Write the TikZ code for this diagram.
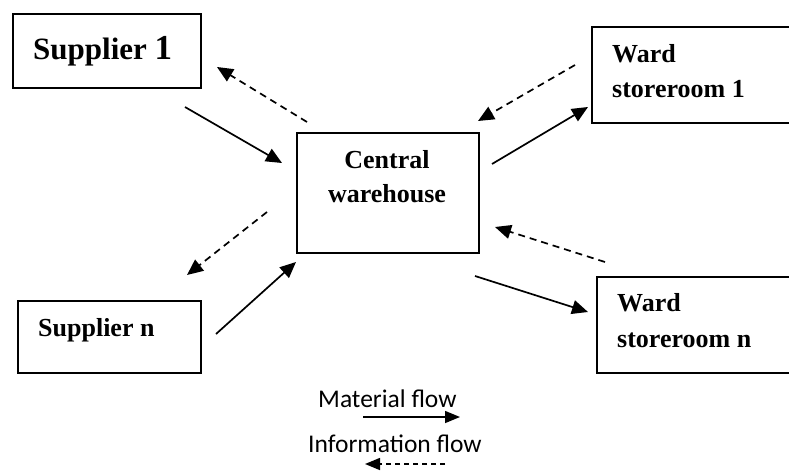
\documentclass[tikz,border=0pt]{standalone}
\usepackage{fontspec}
\setmainfont{Liberation Serif}
\newfontfamily\legendfont{Carlito}
\usetikzlibrary{arrows.meta}

\tikzset{
  box/.style={draw, line width=2pt, inner sep=0pt},
  lbl/.style={font=\bfseries\fontsize{26}{34}\selectfont, anchor=base west, inner sep=0pt},
  matflow/.style={line width=1.7pt, -{Triangle[length=16pt,width=14pt]}},
  infoflow/.style={line width=1.7pt, dash pattern=on 7pt off 5pt, -{Triangle[length=16pt,width=14pt]}},
  legtext/.style={font=\legendfont\fontsize{25.5}{30}\selectfont, anchor=base west, inner sep=0pt},
}

\begin{document}
\begin{tikzpicture}[x=1pt,y=-1pt]
  \clip (0,0) rectangle (789,471);
  \fill[white] (0,0) rectangle (789,471);

  % boxes
  \node[box, minimum width=188pt, minimum height=74pt, anchor=north west] (s1) at (12,13) {};
  \node[box, minimum width=183pt, minimum height=72pt, anchor=north west] (sn) at (17,300) {};
  \node[box, minimum width=182pt, minimum height=120pt, anchor=north west] (cw) at (296,132) {};
  \node[box, minimum width=230pt, minimum height=96pt, anchor=north west] (w1) at (591,26) {};
  \node[box, minimum width=230pt, minimum height=96pt, anchor=north west] (wn) at (596,276) {};

  % box texts
  \node[anchor=base west, inner sep=0pt] (s1t) at (33,59)
    {\bfseries\fontsize{31}{36}\selectfont Supplier {\fontsize{35}{40}\selectfont 1}};
  \node[lbl] (snt) at (38,336) {Supplier n};
  \node[lbl, anchor=base] (cwt1) at (387,168) {Central};
  \node[lbl, anchor=base] (cwt2) at (387,202) {warehouse};
  \node[lbl] (w1t1) at (612,62) {Ward};
  \node[lbl] (w1t2) at (612,97) {storeroom 1};
  \node[lbl] (wnt1) at (617,311) {Ward};
  \node[lbl] (wnt2) at (617,347) {storeroom n};

  % connector end points
  \coordinate (a1s) at (185,107); \coordinate (a1e) at (282,163);
  \coordinate (a2s) at (307,122); \coordinate (a2e) at (217,67);
  \coordinate (a3s) at (575,65);  \coordinate (a3e) at (478,121);
  \coordinate (a4s) at (492,164); \coordinate (a4e) at (588,107);
  \coordinate (a5s) at (267,212); \coordinate (a5e) at (187,275);
  \coordinate (a6s) at (216,334); \coordinate (a6e) at (296,262);
  \coordinate (a7s) at (605,262); \coordinate (a7e) at (495,227);
  \coordinate (a8s) at (475,276); \coordinate (a8e) at (588,312);

  % material flow
  \draw[matflow] (a1s) -- (a1e);
  \draw[matflow] (a4s) -- (a4e);
  \draw[matflow] (a6s) -- (a6e);
  \draw[matflow] (a8s) -- (a8e);

  % information flow
  \draw[infoflow] (a2s) -- (a2e);
  \draw[infoflow] (a3s) -- (a3e);
  \draw[infoflow] (a5s) -- (a5e);
  \draw[infoflow] (a7s) -- (a7e);

  % legend
  \node[legtext] (lm) at (318,407) {Material flow};
  \node[legtext] (li) at (308,452) {Information flow};
  \coordinate (lms) at (363,417); \coordinate (lme) at (460,417);
  \coordinate (lis) at (445,464); \coordinate (lie) at (365,464);
  \draw[line width=1.5pt, -{Triangle[length=15pt,width=12pt]}] (lms) -- (lme);
  \draw[line width=1.5pt, dash pattern=on 5pt off 4pt, -{Triangle[length=15pt,width=12pt]}] (lis) -- (lie);
\end{tikzpicture}
\end{document}
